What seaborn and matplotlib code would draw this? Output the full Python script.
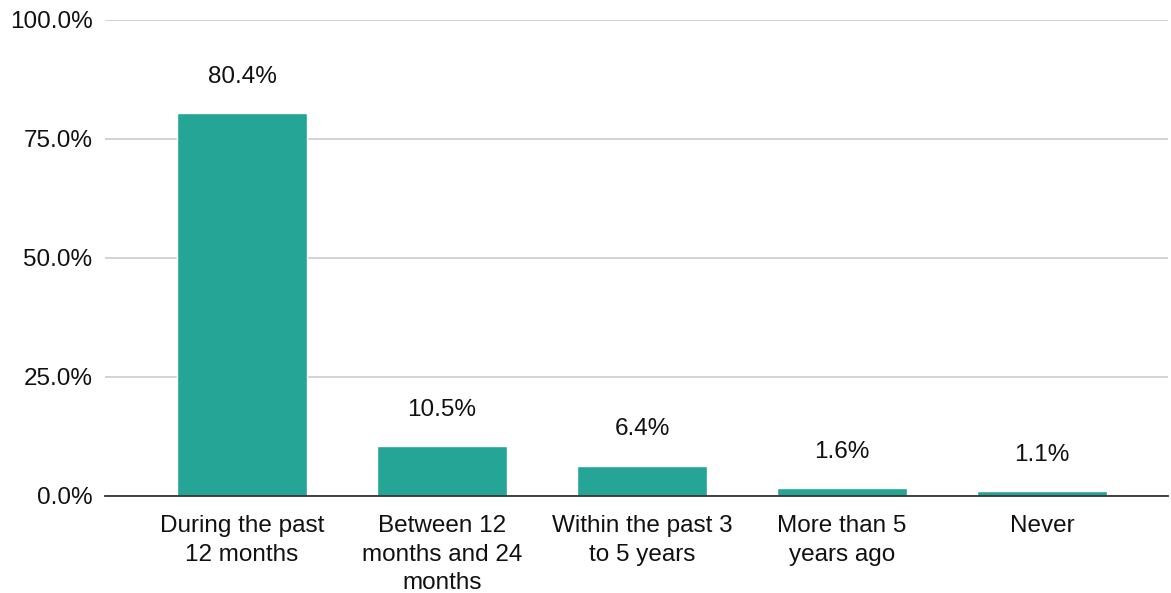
import matplotlib
matplotlib.use("Agg")
import matplotlib.pyplot as plt
import seaborn as sns
import pandas as pd
from matplotlib.ticker import PercentFormatter

categories = ["During the past\n12 months", "Between 12\nmonths and 24\nmonths",
              "Within the past 3\nto 5 years", "More than 5\nyears ago", "Never"]
values = [80.4, 10.5, 6.4, 1.6, 1.1]
y_ticks = [0, 25, 50, 75, 100]

df = pd.DataFrame({"when": categories, "pct": values})

sns.set_style("white")
plt.rcParams["font.family"] = ["Liberation Sans", "DejaVu Sans"]

fig = plt.figure(figsize=(11.71, 5.93), dpi=100)
ax = fig.add_axes([0.0897, 0.1636, 0.9077, 0.8027])

sns.barplot(data=df, x="when", y="pct", color="#24A595", saturation=1,
            width=0.65, ax=ax, zorder=3)

for i, v in enumerate(values):
    ax.annotate(f"{v:.1f}%", (i, v), xytext=(0, 26), textcoords="offset points",
                ha="center", va="center", fontsize=17.5, color="#111111")

ax.set_ylim(0, 100)
ax.set_xlim(-0.685, 4.63)
ax.set_yticks(y_ticks)
ax.yaxis.set_major_formatter(PercentFormatter(decimals=1))
ax.grid(axis="y", color="#cccccc", linewidth=1.2, zorder=0)
ax.set_axisbelow(True)
for s in ["top", "right", "left"]:
    ax.spines[s].set_visible(False)
ax.spines["bottom"].set_color("#333333")
ax.spines["bottom"].set_linewidth(1.3)
ax.spines["bottom"].set_zorder(4)
ax.tick_params(axis="both", length=0, labelsize=17.5, colors="#111111")
ax.tick_params(axis="x", pad=13.5)
ax.tick_params(axis="y", pad=9)
for lbl in ax.get_xticklabels():
    lbl.set_linespacing(1.4)
ax.set_xlabel("")
ax.set_ylabel("")

fig.savefig("out.png", dpi=100)
